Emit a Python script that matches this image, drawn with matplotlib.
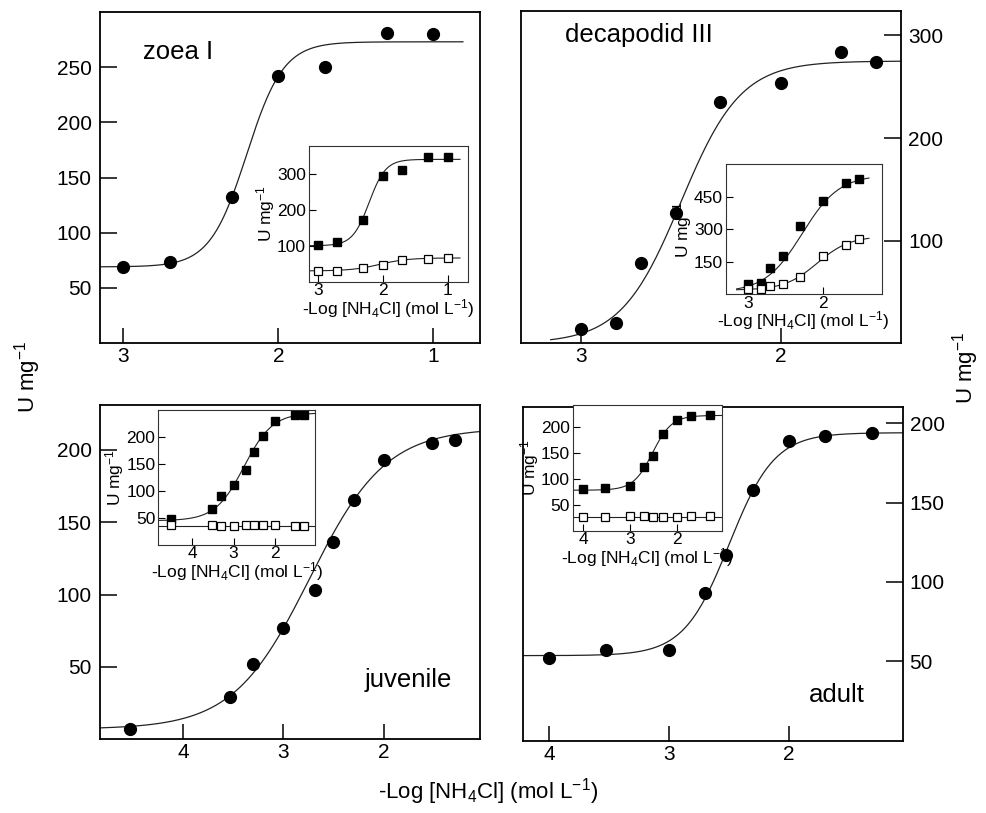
import numpy as np
import matplotlib
matplotlib.use('Agg')
import matplotlib.pyplot as plt

plt.rcParams['font.family'] = ['Liberation Sans', 'DejaVu Sans']
plt.rcParams['mathtext.fontset'] = 'custom'
plt.rcParams['mathtext.rm'] = 'Liberation Sans'
plt.rcParams['mathtext.default'] = 'regular'

# ---- data ----
# zoea I
zoea_x = [3.0, 2.7, 2.3, 2.0, 1.7, 1.3, 1.0]
zoea_y = [69, 73, 132, 242, 250, 281, 280]
zoea_fit = (69, 273, 2.204, 3.66)           # bottom, top, x50, slope
zoea_in_x = [3.0, 2.7, 2.3, 2.0, 1.7, 1.3, 1.0]
zoea_in_hi = [103, 110, 172, 295, 311, 347, 347]
zoea_in_lo = [31, 31, 39, 47, 59, 63, 65]
zoea_in_hi_fit = (100, 340, 2.21, 3.4)
zoea_in_lo_fit = (30, 66, 2.05, 2.0)

# decapodid III
deca_x = [3.0, 2.825, 2.70, 2.525, 2.305, 2.0, 1.70, 1.525]
deca_y = [14, 20, 78, 127, 235, 254, 284, 274]
deca_fit = (0, 275, 2.5, 2.9)
deca_in_x = [3.0, 2.83, 2.71, 2.53, 2.31, 2.0, 1.70, 1.52]
deca_in_hi = [47, 55, 121, 178, 315, 431, 512, 530]
deca_in_lo = [27, 27, 38, 50, 79, 176, 227, 255]
deca_in_hi_fit = (10, 550, 2.28, 1.75)
deca_in_lo_fit = (20, 268, 2.08, 2.0)

# juvenile
juv_x = [4.53, 3.53, 3.30, 3.0, 2.69, 2.51, 2.30, 2.0, 1.52, 1.29]
juv_y = [7, 29, 52, 77, 103, 136, 165, 193, 205, 207]
juv_fit = (7, 215, 2.74, 1.14)
juv_in_x = [4.53, 3.52, 3.30, 2.98, 2.69, 2.51, 2.29, 2.0, 1.52, 1.30]
juv_in_hi = [48, 67, 90, 111, 139, 172, 202, 230, 241, 241]
juv_in_lo = [38, 37, 36, 35, 37, 37, 38, 37, 36, 35]
juv_in_hi_fit = (45, 245, 2.75, 1.25)
juv_in_lo_fit = (36, 36, 2.5, 1.0)

# adult
ad_x = [4.0, 3.53, 3.0, 2.705, 2.525, 2.305, 2.0, 1.70, 1.31]
ad_y = [52, 57, 57, 93, 117, 158, 189, 192, 194]
ad_fit = (53.6, 194, 2.5, 2.3)
ad_in_x = [4.0, 3.53, 3.0, 2.70, 2.51, 2.30, 2.0, 1.70, 1.30]
ad_in_hi = [80, 83, 86, 122, 143, 186, 214, 220, 222]
ad_in_lo = [27, 26, 27.5, 27.5, 25.5, 27, 25.5, 28, 27.5]
ad_in_hi_fit = (78, 222, 2.52, 2.1)
ad_in_lo_fit = (26, 26, 2.5, 1.0)

XLAB = '-Log [NH$_4$Cl] (mol L$^{-1}$)'
YLAB = 'U mg$^{-1}$'


def hill(x, b, t, x50, h):
    return b + (t - b) / (1 + 10 ** (h * (x - x50)))


def main_panel(ax, x, y, fit, xlim, ylim, xticks, yticks, side, xrange_fit, name, npos):
    xs = np.linspace(xrange_fit[0], xrange_fit[1], 300)
    ax.plot(xs, hill(xs, *fit), color='#222222', lw=0.9, zorder=2)
    ax.plot(x, y, 'o', color='black', ms=8.5, zorder=3)
    ax.set_xlim(*xlim)
    ax.set_ylim(*ylim)
    ax.set_xticks(xticks)
    ax.set_xticklabels([str(v) for v in xticks])
    ax.set_yticks(yticks)
    ax.set_yticklabels([str(v) for v in yticks])
    ax.tick_params(axis='x', direction='in', length=11, width=1.1, labelsize=15, pad=3)
    if side == 'left':
        ax.tick_params(axis='y', direction='in', length=12, width=1.1, labelsize=15, pad=6,
                       left=True, right=False, labelleft=True, labelright=False)
    else:
        ax.tick_params(axis='y', direction='in', length=12, width=1.1, labelsize=15, pad=5,
                       left=False, right=True, labelleft=False, labelright=True)
    for s in ax.spines.values():
        s.set_linewidth(1.3)
    ax.text(npos[0], npos[1], name, transform=ax.transAxes, fontsize=18.5, va='center', ha='left')


def inset(fig, rect, x, hi, lo, hi_fit, lo_fit, xlim, ylim, xticks, yticks, xr):
    ax = fig.add_axes(rect)
    ax.set_facecolor('white')
    xs = np.linspace(xr[0], xr[1], 300)
    ax.plot(xs, hill(xs, *hi_fit), color='#222222', lw=0.8, zorder=2)
    ax.plot(xs, hill(xs, *lo_fit), color='#222222', lw=0.8, zorder=2)
    ax.plot(x, hi, 's', color='black', ms=5.8, zorder=3)
    ax.plot(x, lo, 's', mfc='white', mec='black', mew=0.9, ms=5.5, zorder=3)
    ax.set_xlim(*xlim)
    ax.set_ylim(*ylim)
    ax.set_xticks(xticks)
    ax.set_xticklabels([str(v) for v in xticks])
    ax.set_yticks(yticks)
    ax.set_yticklabels([str(v) for v in yticks])
    ax.tick_params(direction='in', length=5, width=0.8, labelsize=12.5)
    ax.tick_params(axis='x', pad=1)
    ax.tick_params(axis='y', pad=2)
    ax.set_xlabel(XLAB, fontsize=12.5, labelpad=-1)
    ax.set_ylabel(YLAB, fontsize=12.5, labelpad=0)
    for s in ax.spines.values():
        s.set_linewidth(0.8)
        s.set_color('#333333')
    return ax


fig = plt.figure(figsize=(9.86, 8.13), dpi=100)

axA = fig.add_axes([0.1014, 0.5781, 0.3854, 0.4071])
main_panel(axA, zoea_x, zoea_y, zoea_fit, (3.15, 0.70), (0, 300), [3, 2, 1],
           [50, 100, 150, 200, 250], 'left', (3.15, 0.81), 'zoea I', (0.113, 0.879))
inset(fig, [0.3131, 0.6535, 0.1613, 0.1673], zoea_in_x, zoea_in_hi, zoea_in_lo,
      zoea_in_hi_fit, zoea_in_lo_fit, (3.14, 0.69), (0, 378), [3, 2, 1], [100, 200, 300],
      (3.14, 0.81))

axB = fig.add_axes([0.5281, 0.5777, 0.3857, 0.4091])
main_panel(axB, deca_x, deca_y, deca_fit, (3.30, 1.40), (0, 324), [3, 2],
           [100, 200, 300], 'right', (3.15, 1.40), 'decapodid III', (0.117, 0.927))
inset(fig, [0.7360, 0.6378, 0.1582, 0.1605], deca_in_x, deca_in_hi, deca_in_lo,
      deca_in_hi_fit, deca_in_lo_fit, (3.30, 1.22), (0, 600), [3, 2], [150, 300, 450],
      (3.155, 1.39))

axC = fig.add_axes([0.1014, 0.0907, 0.3854, 0.4112])
main_panel(axC, juv_x, juv_y, juv_fit, (4.83, 1.04), (0, 231), [4, 3, 2],
           [50, 100, 150, 200], 'left', (4.83, 1.04), 'juvenile', (0.697, 0.177))
inset(fig, [0.1605, 0.3296, 0.1592, 0.1661], juv_in_x, juv_in_hi, juv_in_lo,
      juv_in_hi_fit, juv_in_lo_fit, (4.83, 1.02), (0, 250), [4, 3, 2], [50, 100, 150, 200],
      (4.83, 1.02))

axD = fig.add_axes([0.5301, 0.0889, 0.3854, 0.4101])
main_panel(axD, ad_x, ad_y, ad_fit, (4.22, 1.055), (0, 210), [4, 3, 2],
           [50, 100, 150, 200], 'right', (4.22, 1.055), 'adult', (0.752, 0.137))
inset(fig, [0.5808, 0.3472, 0.1511, 0.1546], ad_in_x, ad_in_hi, ad_in_lo,
      ad_in_hi_fit, ad_in_lo_fit, (4.23, 1.04), (0, 242), [4, 3, 2], [50, 100, 150, 200],
      (4.23, 1.04))

fig.text(0.028, 0.537, YLAB, rotation=90, fontsize=16, ha='center', va='center')
fig.text(0.979, 0.547, YLAB, rotation=90, fontsize=16, ha='center', va='center')
fig.text(0.495, 0.026, XLAB, fontsize=16, ha='center', va='center')

fig.savefig('out.png', dpi=100, facecolor='white')
